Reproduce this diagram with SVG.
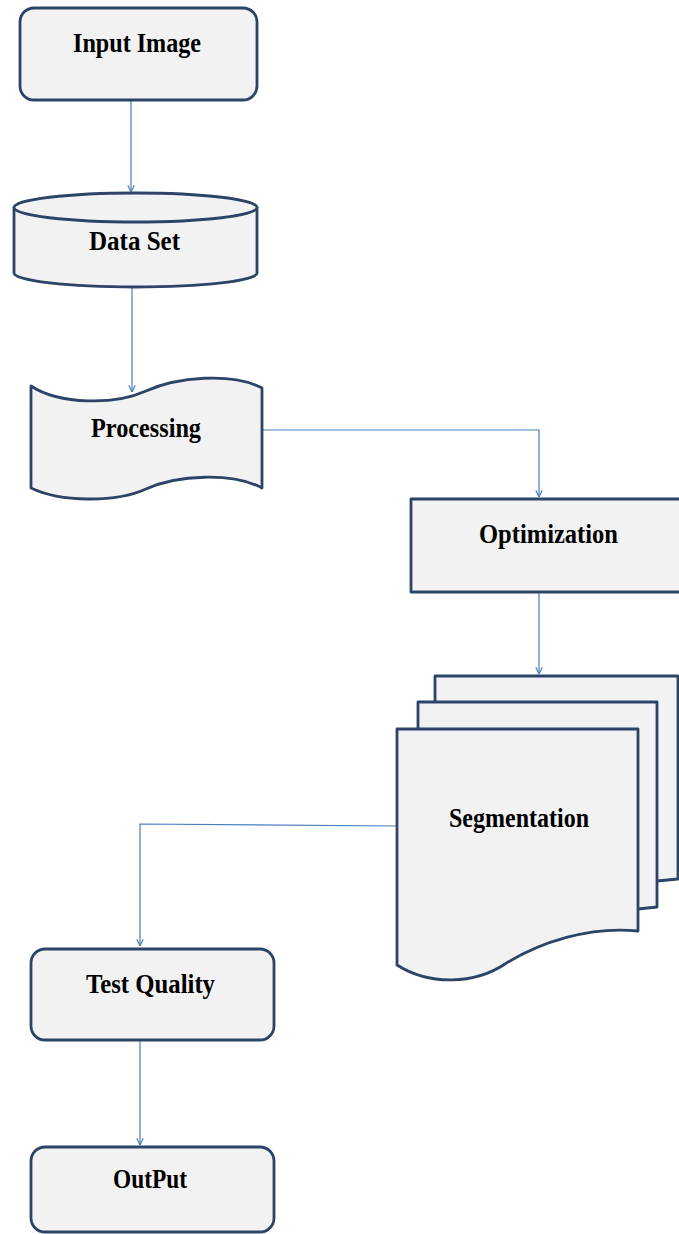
<svg xmlns="http://www.w3.org/2000/svg" width="679" height="1234" viewBox="0 0 679 1234">
<style>
.node{fill:#f2f2f2;stroke:#2b4468;stroke-width:2.8;stroke-linejoin:round}
.lbl{font-family:"Liberation Serif","Times New Roman",serif;font-weight:bold;font-size:27px;fill:#000;text-anchor:middle}
.conn{fill:none;stroke:#4a7ebb;stroke-width:1.2}
</style>
<defs>
<marker id="arr" viewBox="0 0 10 10" refX="9.5" refY="5" markerWidth="8" markerHeight="8" markerUnits="userSpaceOnUse" orient="auto">
<path d="M1,1 L9.5,5 L1,9" fill="none" stroke="#4a7ebb" stroke-width="1.5"/>
</marker>
</defs>
<g id="connectors">
<path class="conn" d="M131,100 V192" marker-end="url(#arr)"/>
<path class="conn" d="M132,287 V392" marker-end="url(#arr)"/>
<path class="conn" d="M262,430 H539 V497" marker-end="url(#arr)"/>
<path class="conn" d="M539,592 V674" marker-end="url(#arr)"/>
<path class="conn" d="M397,826 L140,824 V946" marker-end="url(#arr)"/>
<path class="conn" d="M140,1040 V1145" marker-end="url(#arr)"/>
</g>
<g id="input-image">
<rect class="node" x="20" y="8" width="237" height="92" rx="14"/>
<text class="lbl" x="137" y="52" textLength="128" lengthAdjust="spacingAndGlyphs">Input Image</text>
</g>
<g id="data-set">
<path class="node" d="M14,207 V273 A121.5,14 0 0 0 257,273 V207"/>
<ellipse class="node" cx="135.5" cy="207.5" rx="121.5" ry="14.5"/>
<text class="lbl" x="134.5" y="250" textLength="91" lengthAdjust="spacingAndGlyphs">Data Set</text>
</g>
<g id="processing">
<path class="node" d="M31,386 C60,405 115,405 146,391 C177,377 232,372 262,388 V488 C232,472 177,475 146,489 C115,503 60,502 31,488 Z"/>
<text class="lbl" x="146" y="437" textLength="110" lengthAdjust="spacingAndGlyphs">Processing</text>
</g>
<g id="optimization">
<rect class="node" x="411" y="499" width="275" height="93"/>
<text class="lbl" x="548.5" y="543" textLength="139" lengthAdjust="spacingAndGlyphs">Optimization</text>
</g>
<g id="segmentation">
<path class="node" d="M435,676 H678 V879 L657,881 L435,900 Z"/>
<path class="node" d="M418,702 H657 V907 L638,909 L418,930 Z"/>
<path class="node" d="M397,729 H638 V931 C590,926 540,942 505,964 C475,984 430,986 397,965 Z"/>
<text class="lbl" x="519" y="827" textLength="140" lengthAdjust="spacingAndGlyphs">Segmentation</text>
</g>
<g id="test-quality">
<rect class="node" x="31" y="949" width="243" height="91" rx="14"/>
<text class="lbl" x="150.5" y="993" textLength="129" lengthAdjust="spacingAndGlyphs">Test Quality</text>
</g>
<g id="output">
<rect class="node" x="31" y="1147" width="243" height="85" rx="14"/>
<text class="lbl" x="150" y="1188" textLength="74" lengthAdjust="spacingAndGlyphs">OutPut</text>
</g>
</svg>
